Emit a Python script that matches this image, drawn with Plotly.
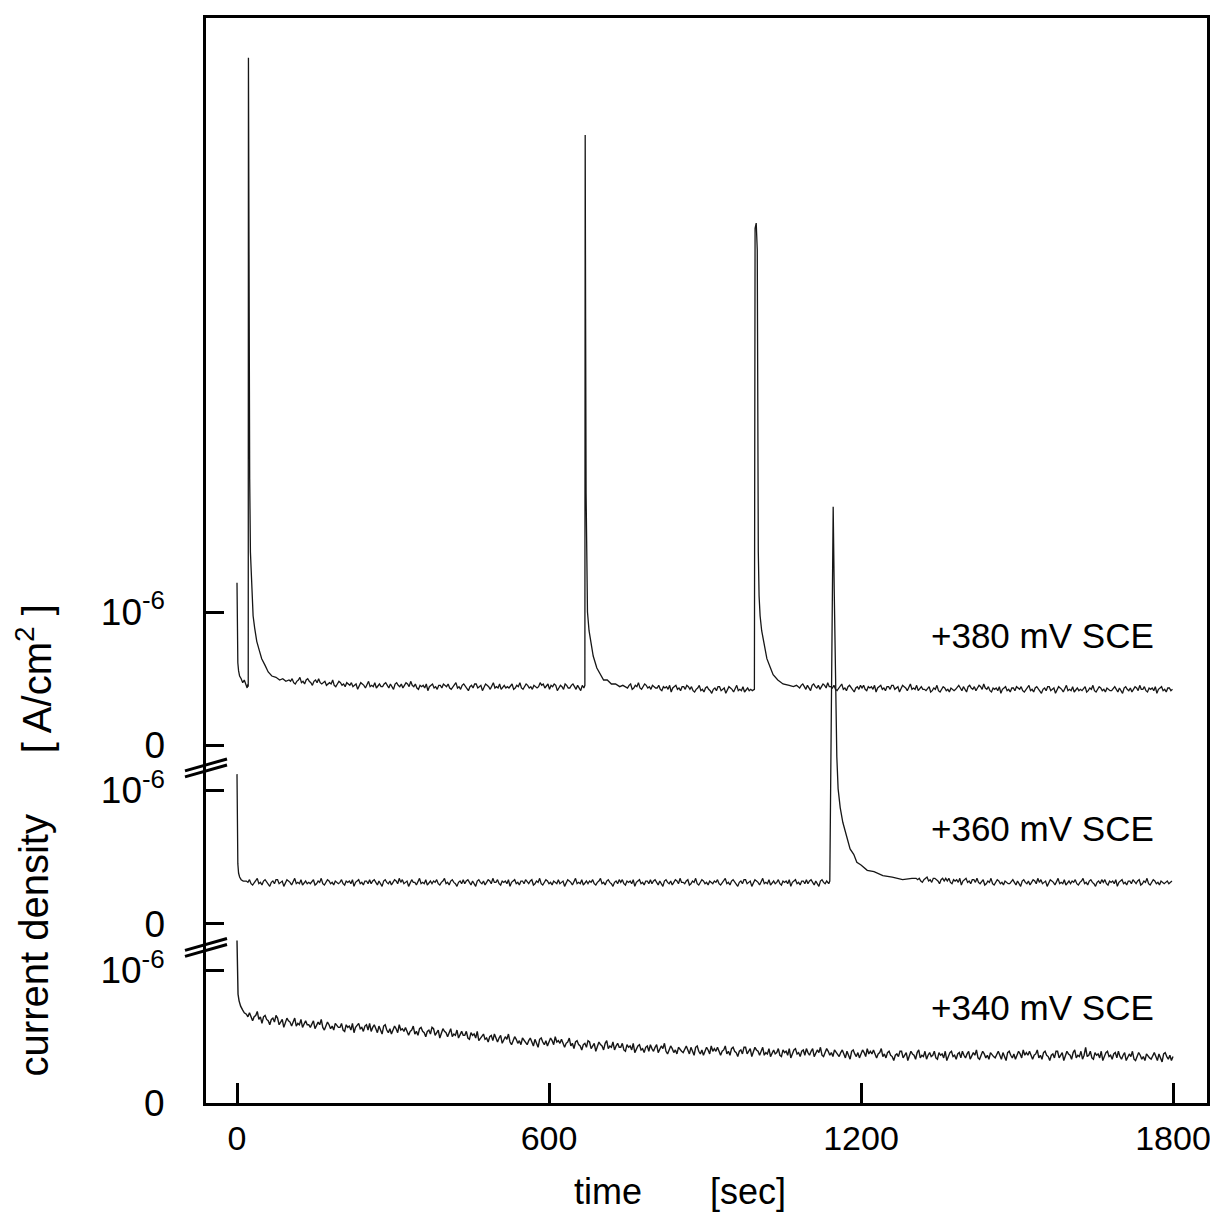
import plotly.graph_objects as go

# ---------------- data (time in s, current density in units of 1e-6 A/cm^2) ----------------
DT = 3  # sampling interval of the flat (noisy) stretches [s]

# ---- +380 mV SCE ----
t380_start = [0, 0.8, 1.6, 3, 5, 8, 11, 14, 17, 19.5, 21, 21.6, 22.0, 22.6, 23.4, 24.4, 25.8,
              28.3, 31, 34, 38, 43, 47.5, 54, 60, 67, 75, 82, 88, 94]
i380_start = [1.22, 0.80, 0.62, 0.56, 0.52, 0.50, 0.47, 0.49, 0.45, 0.43, 0.46, 0.44, 5.16, 4.1,
              2.9, 2.0, 1.45, 1.13, 0.97, 0.88, 0.78, 0.71, 0.65, 0.60, 0.55, 0.52, 0.51, 0.49,
              0.50, 0.48]
t380_base1_start = 100
i380_base1 = [
    0.49, 0.48, 0.50, 0.47, 0.46, 0.48, 0.49, 0.51, 0.47, 0.48, 0.46, 0.49, 0.50, 0.48, 0.47, 0.45, 0.48, 0.49, 0.47, 0.50,
    0.47, 0.46, 0.47, 0.48, 0.45, 0.46, 0.47, 0.46, 0.49, 0.45, 0.44, 0.46, 0.48, 0.47, 0.45, 0.46, 0.44, 0.47, 0.46, 0.45,
    0.47, 0.44, 0.45, 0.46, 0.42, 0.44, 0.47, 0.46, 0.45, 0.43, 0.46, 0.48, 0.44, 0.45, 0.44, 0.47, 0.43, 0.45, 0.46, 0.44,
    0.44, 0.46, 0.47, 0.45, 0.43, 0.46, 0.44, 0.42, 0.46, 0.47, 0.45, 0.44, 0.46, 0.43, 0.45, 0.47, 0.46, 0.44, 0.48, 0.45,
    0.44, 0.46, 0.43, 0.42, 0.45, 0.44, 0.45, 0.43, 0.46, 0.41, 0.44, 0.45, 0.46, 0.43, 0.44, 0.42, 0.45, 0.45, 0.43, 0.46,
    0.45, 0.44, 0.46, 0.43, 0.42, 0.44, 0.45, 0.47, 0.43, 0.44, 0.42, 0.45, 0.46, 0.44, 0.43, 0.41, 0.44, 0.45, 0.43, 0.46,
    0.46, 0.43, 0.44, 0.45, 0.41, 0.43, 0.46, 0.45, 0.44, 0.42, 0.45, 0.47, 0.43, 0.44, 0.43, 0.46, 0.42, 0.44, 0.45, 0.43,
    0.44, 0.43, 0.45, 0.46, 0.42, 0.43, 0.45, 0.44, 0.47, 0.43, 0.42, 0.44, 0.46, 0.45, 0.43, 0.44, 0.42, 0.45, 0.44, 0.43,
    0.44, 0.47, 0.45, 0.46, 0.43, 0.45, 0.46, 0.42, 0.45, 0.44, 0.46, 0.45, 0.41, 0.43, 0.45, 0.44, 0.42, 0.46, 0.45, 0.43,
    0.43, 0.45, 0.46, 0.44, 0.42, 0.45, 0.43, 0.41, 0.45]
t380_spike2 = [667, 669, 669.6, 670.4, 671.3, 672.5, 674, 677, 681, 685, 692, 698, 705, 712,
               720, 728, 736, 742]
i380_spike2 = [0.43, 0.45, 4.58, 3.2, 1.9, 1.22, 1.0, 0.86, 0.75, 0.67, 0.58, 0.54, 0.49, 0.49,
               0.46, 0.46, 0.44, 0.45]
t380_base2_start = 748
i380_base2 = [
    0.44, 0.43, 0.45, 0.46, 0.42, 0.43, 0.45, 0.44, 0.47, 0.43, 0.42, 0.44, 0.46, 0.45, 0.43, 0.44, 0.42, 0.45, 0.44, 0.43,
    0.43, 0.45, 0.42, 0.41, 0.44, 0.43, 0.44, 0.42, 0.45, 0.40, 0.43, 0.44, 0.45, 0.42, 0.43, 0.41, 0.44, 0.44, 0.42, 0.45,
    0.44, 0.42, 0.44, 0.41, 0.40, 0.42, 0.43, 0.45, 0.41, 0.42, 0.40, 0.43, 0.44, 0.42, 0.41, 0.39, 0.42, 0.43, 0.41, 0.44,
    0.44, 0.41, 0.42, 0.43, 0.39, 0.41, 0.44, 0.43, 0.42, 0.40, 0.43, 0.45, 0.41, 0.42, 0.41, 0.44, 0.40, 0.42, 0.43, 0.41,
    0.42, 0.41]
t380_spike3 = [995, 996.3, 998.5, 1000.5, 1001.5, 1002.5, 1004, 1006, 1009, 1014, 1019, 1025,
               1031, 1040, 1050, 1062, 1070, 1076]
i380_spike3 = [0.42, 3.88, 3.92, 3.72, 2.4, 1.45, 1.12, 0.97, 0.86, 0.74, 0.65, 0.59, 0.53,
               0.49, 0.46, 0.45, 0.44, 0.45]
t380_base3_start = 1082
i380_base3 = [
    0.43, 0.45, 0.46, 0.44, 0.42, 0.45, 0.43, 0.41, 0.45, 0.46, 0.44, 0.43, 0.45, 0.42, 0.44, 0.46, 0.45, 0.43, 0.47, 0.44,
    0.44, 0.43, 0.45, 0.42, 0.41, 0.43, 0.44, 0.46, 0.42, 0.43, 0.41, 0.44, 0.45, 0.43, 0.42, 0.40, 0.43, 0.44, 0.42, 0.45,
    0.43, 0.45, 0.42, 0.41, 0.44, 0.43, 0.44, 0.42, 0.45, 0.40, 0.43, 0.44, 0.45, 0.42, 0.43, 0.41, 0.44, 0.44, 0.42, 0.45,
    0.45, 0.42, 0.43, 0.44, 0.40, 0.42, 0.45, 0.44, 0.43, 0.41, 0.44, 0.46, 0.42, 0.43, 0.42, 0.45, 0.41, 0.43, 0.44, 0.42,
    0.42, 0.41, 0.43, 0.44, 0.40, 0.41, 0.43, 0.42, 0.45, 0.41, 0.40, 0.42, 0.44, 0.43, 0.41, 0.42, 0.40, 0.43, 0.42, 0.41,
    0.42, 0.44, 0.45, 0.43, 0.41, 0.44, 0.42, 0.40, 0.44, 0.45, 0.43, 0.42, 0.44, 0.41, 0.43, 0.45, 0.44, 0.42, 0.46, 0.43,
    0.42, 0.44, 0.41, 0.40, 0.43, 0.42, 0.43, 0.41, 0.44, 0.39, 0.42, 0.43, 0.44, 0.41, 0.42, 0.40, 0.43, 0.43, 0.41, 0.44,
    0.43, 0.42, 0.44, 0.41, 0.40, 0.42, 0.43, 0.45, 0.41, 0.42, 0.40, 0.43, 0.44, 0.42, 0.41, 0.39, 0.42, 0.43, 0.41, 0.44,
    0.44, 0.41, 0.42, 0.43, 0.39, 0.41, 0.44, 0.43, 0.42, 0.40, 0.43, 0.45, 0.41, 0.42, 0.41, 0.44, 0.40, 0.42, 0.43, 0.41,
    0.42, 0.41, 0.43, 0.44, 0.40, 0.41, 0.43, 0.42, 0.45, 0.41, 0.40, 0.42, 0.44, 0.43, 0.41, 0.42, 0.40, 0.43, 0.42, 0.41,
    0.41, 0.43, 0.44, 0.42, 0.40, 0.43, 0.41, 0.39, 0.43, 0.44, 0.42, 0.41, 0.43, 0.40, 0.42, 0.44, 0.43, 0.41, 0.45, 0.42,
    0.42, 0.44, 0.41, 0.40, 0.43, 0.42, 0.43, 0.41, 0.44, 0.39, 0.42, 0.43, 0.44, 0.41, 0.42, 0.40, 0.43, 0.43, 0.41, 0.42]

# ---- +360 mV SCE ----
t360_start = [0, 0.8, 1.6, 3, 5, 8, 12]
i360_start = [1.12, 0.62, 0.45, 0.38, 0.35, 0.33, 0.32]
t360_base1_start = 18
i360_base1 = [
    0.32, 0.31, 0.33, 0.30, 0.29, 0.31, 0.32, 0.34, 0.30, 0.31, 0.29, 0.32, 0.33, 0.31, 0.30, 0.28, 0.31, 0.32, 0.30, 0.33,
    0.33, 0.30, 0.31, 0.32, 0.28, 0.30, 0.33, 0.32, 0.31, 0.29, 0.32, 0.34, 0.30, 0.31, 0.30, 0.33, 0.29, 0.31, 0.32, 0.30,
    0.31, 0.30, 0.32, 0.33, 0.29, 0.30, 0.32, 0.31, 0.34, 0.30, 0.29, 0.31, 0.33, 0.32, 0.30, 0.31, 0.29, 0.32, 0.31, 0.30,
    0.31, 0.33, 0.30, 0.29, 0.32, 0.31, 0.32, 0.30, 0.33, 0.28, 0.31, 0.32, 0.33, 0.30, 0.31, 0.29, 0.32, 0.32, 0.30, 0.33,
    0.30, 0.32, 0.33, 0.31, 0.29, 0.32, 0.30, 0.28, 0.32, 0.33, 0.31, 0.30, 0.32, 0.29, 0.31, 0.33, 0.32, 0.30, 0.34, 0.31,
    0.33, 0.30, 0.31, 0.32, 0.28, 0.30, 0.33, 0.31, 0.31, 0.29, 0.32, 0.34, 0.30, 0.31, 0.30, 0.33, 0.29, 0.31, 0.32, 0.30,
    0.32, 0.31, 0.33, 0.30, 0.29, 0.31, 0.32, 0.34, 0.30, 0.31, 0.29, 0.32, 0.33, 0.31, 0.30, 0.28, 0.31, 0.32, 0.30, 0.33,
    0.30, 0.32, 0.33, 0.31, 0.29, 0.32, 0.30, 0.28, 0.32, 0.33, 0.31, 0.30, 0.32, 0.29, 0.31, 0.33, 0.32, 0.30, 0.34, 0.31,
    0.31, 0.33, 0.30, 0.29, 0.32, 0.31, 0.32, 0.30, 0.33, 0.28, 0.31, 0.32, 0.33, 0.30, 0.31, 0.29, 0.32, 0.32, 0.30, 0.33,
    0.31, 0.30, 0.32, 0.33, 0.29, 0.30, 0.32, 0.31, 0.34, 0.30, 0.29, 0.31, 0.33, 0.32, 0.30, 0.31, 0.29, 0.32, 0.31, 0.30,
    0.33, 0.30, 0.31, 0.32, 0.28, 0.30, 0.33, 0.32, 0.31, 0.29, 0.32, 0.34, 0.30, 0.31, 0.30, 0.33, 0.29, 0.31, 0.32, 0.30,
    0.32, 0.31, 0.33, 0.30, 0.29, 0.31, 0.32, 0.34, 0.30, 0.31, 0.29, 0.32, 0.33, 0.31, 0.30, 0.28, 0.31, 0.32, 0.30, 0.33,
    0.31, 0.33, 0.30, 0.29, 0.32, 0.31, 0.32, 0.30, 0.33, 0.28, 0.31, 0.32, 0.33, 0.30, 0.31, 0.29, 0.32, 0.32, 0.30, 0.33,
    0.30, 0.32, 0.33, 0.31, 0.29, 0.32, 0.30, 0.28, 0.32, 0.33, 0.31, 0.30, 0.32, 0.29, 0.31, 0.33, 0.32, 0.30, 0.34, 0.31,
    0.31, 0.30, 0.32, 0.33, 0.29, 0.30, 0.32, 0.31, 0.34, 0.30, 0.29, 0.31, 0.33, 0.32, 0.30, 0.31, 0.29, 0.32, 0.31, 0.30,
    0.32, 0.31, 0.33, 0.30, 0.29, 0.31, 0.32, 0.34, 0.30, 0.31, 0.29, 0.32, 0.33, 0.31, 0.30, 0.28, 0.31, 0.32, 0.30, 0.33,
    0.33, 0.30, 0.31, 0.32, 0.28, 0.30, 0.33, 0.32, 0.31, 0.29, 0.32, 0.34, 0.30, 0.31, 0.30, 0.33, 0.29, 0.31, 0.32, 0.30,
    0.31, 0.33, 0.30, 0.29, 0.32, 0.31, 0.32, 0.30, 0.33, 0.28, 0.31, 0.32, 0.33, 0.30, 0.31, 0.29, 0.32, 0.32, 0.30, 0.33,
    0.30, 0.32, 0.33, 0.31, 0.29, 0.32, 0.30, 0.28, 0.32, 0.33, 0.31, 0.30, 0.32]
t360_spike = [1138, 1140, 1141.5, 1143.5, 1146.5, 1148.5, 1151, 1153.5, 1156, 1160, 1165, 1172,
              1179, 1186, 1192, 1200, 1212, 1225, 1242, 1260, 1280, 1298]
i360_spike = [0.30, 0.32, 0.90, 2.00, 3.12, 2.50, 1.70, 1.25, 1.01, 0.87, 0.76, 0.66, 0.56, 0.52,
              0.46, 0.44, 0.40, 0.39, 0.36, 0.35, 0.33, 0.34]
t360_base2_start = 1306
i360_base2 = [
    0.34, 0.33, 0.34, 0.32, 0.31, 0.33, 0.34, 0.35, 0.32, 0.33, 0.31, 0.34, 0.34, 0.33, 0.32, 0.30, 0.33, 0.34, 0.32, 0.34,
    0.32, 0.34, 0.31, 0.30, 0.33, 0.32, 0.33, 0.31, 0.34, 0.29, 0.32, 0.33, 0.34, 0.31, 0.32, 0.30, 0.33, 0.33, 0.31, 0.34,
    0.31, 0.30, 0.32, 0.33, 0.29, 0.30, 0.32, 0.31, 0.34, 0.30, 0.29, 0.31, 0.33, 0.32, 0.30, 0.31, 0.29, 0.32, 0.31, 0.30,
    0.30, 0.32, 0.33, 0.31, 0.29, 0.32, 0.30, 0.28, 0.32, 0.33, 0.31, 0.30, 0.32, 0.29, 0.31, 0.33, 0.32, 0.30, 0.34, 0.31,
    0.33, 0.30, 0.31, 0.32, 0.28, 0.30, 0.33, 0.32, 0.31, 0.29, 0.32, 0.34, 0.30, 0.31, 0.30, 0.33, 0.29, 0.31, 0.32, 0.30,
    0.32, 0.31, 0.33, 0.30, 0.29, 0.31, 0.32, 0.34, 0.30, 0.31, 0.29, 0.32, 0.33, 0.31, 0.30, 0.28, 0.31, 0.32, 0.30, 0.33,
    0.31, 0.33, 0.30, 0.29, 0.32, 0.31, 0.32, 0.30, 0.33, 0.28, 0.31, 0.32, 0.33, 0.30, 0.31, 0.29, 0.32, 0.32, 0.30, 0.33,
    0.31, 0.30, 0.32, 0.33, 0.29, 0.30, 0.32, 0.31, 0.34, 0.30, 0.29, 0.31, 0.33, 0.32, 0.30, 0.31, 0.29, 0.32, 0.31, 0.30,
    0.31, 0.32, 0.30, 0.31, 0.32]

# ---- +340 mV SCE ----
t340_start = [0, 0.8, 2, 4, 7, 11, 14]
i340_start = [1.225, 0.95, 0.82, 0.77, 0.73, 0.70, 0.68]
t340_base_start = 18
i340_base = [
    0.67, 0.65, 0.68, 0.64, 0.62, 0.65, 0.66, 0.69, 0.63, 0.65, 0.60, 0.65, 0.66, 0.63, 0.62, 0.59, 0.63, 0.64, 0.61, 0.66,
    0.64, 0.59, 0.61, 0.63, 0.57, 0.60, 0.64, 0.62, 0.61, 0.58, 0.62, 0.64, 0.58, 0.60, 0.59, 0.63, 0.57, 0.60, 0.62, 0.59,
    0.59, 0.57, 0.60, 0.62, 0.56, 0.58, 0.61, 0.59, 0.63, 0.57, 0.55, 0.58, 0.61, 0.59, 0.56, 0.58, 0.55, 0.60, 0.58, 0.57,
    0.57, 0.60, 0.55, 0.54, 0.59, 0.57, 0.58, 0.55, 0.60, 0.53, 0.57, 0.59, 0.60, 0.56, 0.57, 0.54, 0.58, 0.59, 0.55, 0.60,
    0.54, 0.57, 0.59, 0.56, 0.53, 0.58, 0.55, 0.52, 0.58, 0.59, 0.55, 0.53, 0.56, 0.52, 0.55, 0.58, 0.56, 0.53, 0.59, 0.55,
    0.56, 0.54, 0.57, 0.53, 0.51, 0.54, 0.55, 0.58, 0.52, 0.54, 0.51, 0.56, 0.57, 0.54, 0.53, 0.50, 0.54, 0.55, 0.52, 0.57,
    0.56, 0.51, 0.53, 0.55, 0.49, 0.52, 0.56, 0.54, 0.53, 0.50, 0.54, 0.56, 0.50, 0.52, 0.51, 0.55, 0.49, 0.52, 0.54, 0.51,
    0.51, 0.54, 0.49, 0.48, 0.53, 0.51, 0.52, 0.49, 0.54, 0.47, 0.49, 0.51, 0.52, 0.48, 0.49, 0.46, 0.50, 0.51, 0.47, 0.52,
    0.48, 0.46, 0.49, 0.51, 0.45, 0.47, 0.50, 0.48, 0.52, 0.46, 0.44, 0.47, 0.50, 0.48, 0.45, 0.47, 0.44, 0.49, 0.47, 0.46,
    0.44, 0.47, 0.49, 0.46, 0.43, 0.48, 0.45, 0.42, 0.48, 0.49, 0.46, 0.44, 0.47, 0.43, 0.46, 0.49, 0.47, 0.44, 0.50, 0.46,
    0.47, 0.45, 0.48, 0.44, 0.42, 0.45, 0.46, 0.49, 0.43, 0.45, 0.41, 0.46, 0.47, 0.44, 0.43, 0.40, 0.44, 0.45, 0.42, 0.47,
    0.46, 0.41, 0.43, 0.45, 0.39, 0.42, 0.46, 0.44, 0.43, 0.40, 0.45, 0.47, 0.41, 0.43, 0.42, 0.46, 0.40, 0.43, 0.45, 0.42,
    0.42, 0.45, 0.40, 0.39, 0.44, 0.42, 0.43, 0.40, 0.45, 0.38, 0.41, 0.43, 0.44, 0.40, 0.41, 0.38, 0.42, 0.43, 0.39, 0.44,
    0.41, 0.39, 0.42, 0.44, 0.38, 0.40, 0.43, 0.41, 0.45, 0.39, 0.37, 0.40, 0.43, 0.41, 0.38, 0.40, 0.37, 0.42, 0.40, 0.39,
    0.38, 0.41, 0.43, 0.40, 0.37, 0.42, 0.39, 0.36, 0.42, 0.43, 0.39, 0.37, 0.40, 0.36, 0.39, 0.42, 0.40, 0.37, 0.43, 0.39,
    0.41, 0.39, 0.42, 0.38, 0.36, 0.39, 0.40, 0.43, 0.37, 0.39, 0.36, 0.41, 0.42, 0.39, 0.38, 0.35, 0.39, 0.40, 0.37, 0.42,
    0.42, 0.37, 0.39, 0.41, 0.35, 0.38, 0.42, 0.40, 0.39, 0.36, 0.40, 0.42, 0.36, 0.38, 0.37, 0.41, 0.35, 0.38, 0.40, 0.37,
    0.38, 0.41, 0.36, 0.35, 0.40, 0.38, 0.39, 0.36, 0.41, 0.34, 0.38, 0.40, 0.41, 0.37, 0.38, 0.35, 0.39, 0.40, 0.36, 0.41,
    0.38, 0.36, 0.39, 0.41, 0.35, 0.37, 0.40, 0.38, 0.42, 0.36, 0.35, 0.38, 0.41, 0.39, 0.36, 0.38, 0.35, 0.40, 0.38, 0.37,
    0.35, 0.38, 0.40, 0.37, 0.34, 0.39, 0.36, 0.33, 0.39, 0.40, 0.37, 0.35, 0.38, 0.34, 0.37, 0.40, 0.38, 0.35, 0.41, 0.37,
    0.39, 0.37, 0.40, 0.36, 0.34, 0.37, 0.38, 0.41, 0.35, 0.37, 0.34, 0.38, 0.39, 0.36, 0.35, 0.32, 0.36, 0.37, 0.35, 0.39,
    0.39, 0.34, 0.36, 0.38, 0.32, 0.35, 0.39, 0.37, 0.36, 0.33, 0.38, 0.40, 0.34, 0.36, 0.35, 0.39, 0.33, 0.36, 0.38, 0.35,
    0.36, 0.39, 0.34, 0.33, 0.38, 0.36, 0.37, 0.34, 0.39, 0.32, 0.36, 0.38, 0.39, 0.35, 0.36, 0.33, 0.37, 0.38, 0.34, 0.39,
    0.36, 0.34, 0.37, 0.39, 0.33, 0.35, 0.38, 0.36, 0.40, 0.34, 0.33, 0.36, 0.39, 0.37, 0.34, 0.36, 0.33, 0.38, 0.36, 0.35,
    0.34, 0.37, 0.39, 0.36, 0.33, 0.38, 0.35, 0.32, 0.38, 0.39, 0.36, 0.34, 0.37, 0.33, 0.36, 0.39, 0.37, 0.34, 0.40, 0.36,
    0.38, 0.36, 0.39, 0.35, 0.33, 0.36, 0.37, 0.40, 0.34, 0.36, 0.33, 0.38, 0.39, 0.36, 0.35, 0.32, 0.36, 0.37, 0.34, 0.39,
    0.39, 0.34, 0.36, 0.38, 0.32, 0.35, 0.39, 0.37, 0.36, 0.33, 0.38, 0.40, 0.34, 0.36, 0.35, 0.39, 0.33, 0.36, 0.42, 0.35,
    0.36, 0.39, 0.34, 0.33, 0.38, 0.36, 0.37, 0.34, 0.39, 0.32, 0.36, 0.38, 0.39, 0.35, 0.36, 0.33, 0.37, 0.38, 0.34, 0.39,
    0.35, 0.33, 0.36, 0.38, 0.32, 0.34, 0.37, 0.35, 0.39, 0.33, 0.32, 0.35, 0.38, 0.36, 0.33, 0.35, 0.32, 0.37, 0.35, 0.34,
    0.33, 0.36, 0.38, 0.35, 0.32, 0.37, 0.34, 0.31, 0.37, 0.38, 0.35, 0.33, 0.36, 0.32, 0.35]

x_tickvals = [0, 600, 1200, 1800]
y_tickvals = [0, 1]
y_ticktext = ["0", "10<sup>-6</sup>"]
series_labels = ["+380 mV SCE", "+360 mV SCE", "+340 mV SCE"]


def sampled(t0, vals):
    return [t0 + DT * k for k in range(len(vals))], list(vals)


def assemble(parts):
    ts, vs = [], []
    for t, v in parts:
        ts += list(t)
        vs += list(v)
    return ts, vs


t380, i380 = assemble([(t380_start, i380_start), sampled(t380_base1_start, i380_base1),
                       (t380_spike2, i380_spike2), sampled(t380_base2_start, i380_base2),
                       (t380_spike3, i380_spike3), sampled(t380_base3_start, i380_base3)])
t360, i360 = assemble([(t360_start, i360_start), sampled(t360_base1_start, i360_base1),
                       (t360_spike, i360_spike), sampled(t360_base2_start, i360_base2)])
t340, i340 = assemble([(t340_start, i340_start), sampled(t340_base_start, i340_base)])

# ---------------- layout geometry (window pixels; page body has an 8 px margin) ----------------
OFF = 8
PLOT_L, PLOT_R, PLOT_T, PLOT_B = 206, 1207, 15, 1103   # plot-area edges in window pixels
W, H = 1218 - OFF, 1213 - OFF
L, T = PLOT_L - OFF, PLOT_T - OFF
R, B = W - (PLOT_R - OFF), H - (PLOT_B - OFF)
PW, PH = PLOT_R - PLOT_L, PLOT_B - PLOT_T

FONT = "Liberation Sans, Arial, Helvetica, sans-serif"
LINE = "#161616"


def px(xp):
    return (xp - PLOT_L) / PW


def py(yp):
    return (PLOT_B - yp) / PH


def yrange(zero_px, one_px):
    s = zero_px - one_px
    lo = -(PLOT_B - zero_px) / s
    return [lo, lo + PH / s]


x_zero_px, x_1800_px = 237, 1173
xs = (x_1800_px - x_zero_px) / 1800.0
xmin = -(x_zero_px - PLOT_L) / xs
xrange_ = [xmin, xmin + PW / xs]

fig = go.Figure()
fig.add_trace(go.Scatter(x=t340, y=i340, mode="lines", yaxis="y",
                         line=dict(color=LINE, width=1.4), showlegend=False))
fig.add_trace(go.Scatter(x=t360, y=i360, mode="lines", yaxis="y2",
                         line=dict(color=LINE, width=1.3), showlegend=False))
fig.add_trace(go.Scatter(x=t380, y=i380, mode="lines", yaxis="y3",
                         line=dict(color=LINE, width=1.3), showlegend=False))

ycommon = dict(tickvals=y_tickvals, ticktext=y_ticktext, ticks="inside", ticklen=18,
               tickwidth=3, tickcolor="black", showgrid=False, zeroline=False,
               tickfont=dict(size=37, family=FONT, color="black"))

fig.update_layout(
    width=W, height=H,
    margin=dict(l=L, r=R, t=T, b=B, pad=0),
    paper_bgcolor="white", plot_bgcolor="white",
    xaxis=dict(range=xrange_, tickvals=x_tickvals, ticks="inside", ticklen=20, tickwidth=3,
               tickcolor="black", showline=True, linewidth=3, linecolor="black", mirror=True,
               showgrid=False, zeroline=False,
               tickfont=dict(size=34, family=FONT, color="black"), ticklabelstandoff=3),
    yaxis=dict(range=yrange(1103, 970), showline=True, linewidth=3, linecolor="black",
               mirror=True, ticklabelstandoff=31, **ycommon),
    yaxis2=dict(range=yrange(923.3, 789.3), overlaying="y", anchor="x", side="left",
                showline=False, ticklabelstandoff=40, **ycommon),
    yaxis3=dict(range=yrange(744.3, 610.7), overlaying="y", anchor="x", side="left",
                showline=False, ticklabelstandoff=40, **ycommon),
)

# axis titles
ann = []
ann.append(dict(text="time", x=px(572), y=py(1192), xanchor="left", yanchor="middle",
                size=36))
ann.append(dict(text="[sec]", x=px(788), y=py(1192), xanchor="right", yanchor="middle",
                size=36))
ann.append(dict(text="current density", x=px(34), y=py(945), textangle=-90,
                xanchor="center", yanchor="middle", size=40))
ann.append(dict(text="[ A/cm<sup>2</sup> ]", x=px(34), y=py(678), textangle=-90,
                xanchor="center", yanchor="middle", size=40))
for a in ann:
    size = a.pop("size")
    a.update(xref="paper", yref="paper", showarrow=False,
             font=dict(size=size, family=FONT, color="black"))
    fig.add_annotation(**a)

# series labels
for lab, ypx in zip(series_labels, [634, 828, 1007]):
    fig.add_annotation(text=lab, x=px(1156), y=py(ypx), xref="paper", yref="paper",
                       xanchor="right", yanchor="middle", showarrow=False,
                       font=dict(size=35, family=FONT, color="black"))

# axis-break marks (//) on the left axis
for yc in [767, 947]:
    for dy in [-3, 3]:
        fig.add_shape(type="line", xref="paper", yref="paper",
                      x0=px(185), y0=py(yc + 6 + dy), x1=px(227), y1=py(yc - 6 + dy),
                      line=dict(color="black", width=3))

fig.write_html("out.html")
